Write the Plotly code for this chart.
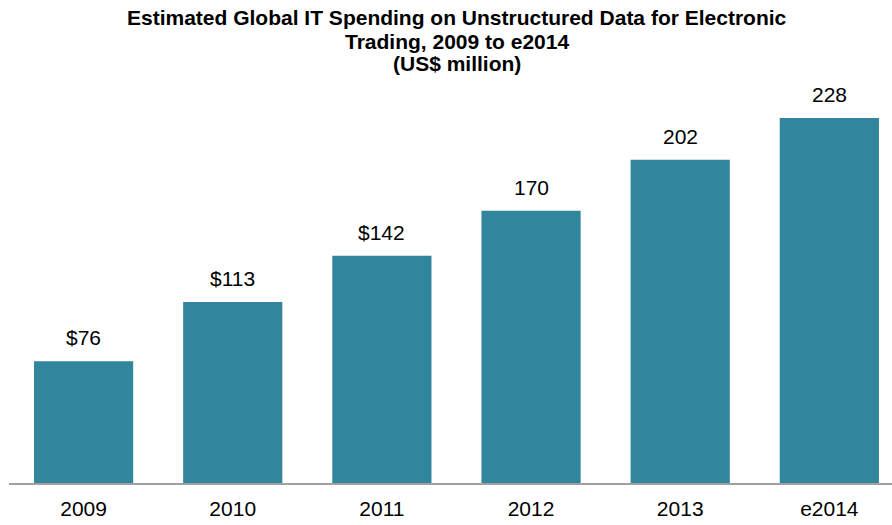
import plotly.graph_objects as go

years = ["2009", "2010", "2011", "2012", "2013", "e2014"]
spending = [76, 113, 142, 170, 202, 228]
bar_labels = ["$76", "$113", "$142", "170", "202", "228"]
title_lines = [
    "Estimated Global IT Spending on Unstructured Data for Electronic",
    "Trading, 2009 to e2014",
    "(US$ million)",
]

FONT = "Liberation Sans, Arial, sans-serif"
TOP, BOTTOM = 90, 42   # plot area margins in px
H = 525
plot_h = H - TOP - BOTTOM

fig = go.Figure()
fig.add_trace(go.Bar(
    x=list(range(len(years))),
    y=spending,
    marker=dict(color="#31859C", line=dict(width=0)),
    hoverinfo="skip",
))

# value labels sit a little above each bar
for i, (val, lab) in enumerate(zip(spending, bar_labels)):
    fig.add_annotation(
        x=i, y=val, text=lab, showarrow=False,
        yanchor="bottom", yshift=10,
        font=dict(family=FONT, size=21, color="#000000"),
    )

# title as three lines with tight spacing
for k, line in enumerate(title_lines):
    py = 18 + 23 * k
    fig.add_annotation(
        xref="paper", yref="paper",
        x=0.5, xanchor="center", xshift=6,
        y=(H - BOTTOM - py) / plot_h, yanchor="middle",
        text="<b>" + line + "</b>", showarrow=False,
        font=dict(family=FONT, size=21, color="#000000"),
    )

fig.update_layout(
    width=892,
    height=H,
    paper_bgcolor="white",
    plot_bgcolor="white",
    showlegend=False,
    bargap=0.335,
    margin=dict(l=9, r=0, t=TOP, b=BOTTOM),
    xaxis=dict(
        range=[-0.5, 5.42],
        tickmode="array", tickvals=list(range(len(years))), ticktext=years,
        showline=True, linecolor="#A0A0A0", linewidth=1.5,
        ticks="", showgrid=False, zeroline=False,
        tickfont=dict(family=FONT, size=21, color="#000000"),
        ticklabelstandoff=6,
    ),
    yaxis=dict(
        range=[0, 245.5],
        visible=False, showgrid=False, zeroline=False,
    ),
)

fig.write_html(
    "out.html",
    config={"displayModeBar": False},
    post_script="document.body.style.margin='0';",
)
